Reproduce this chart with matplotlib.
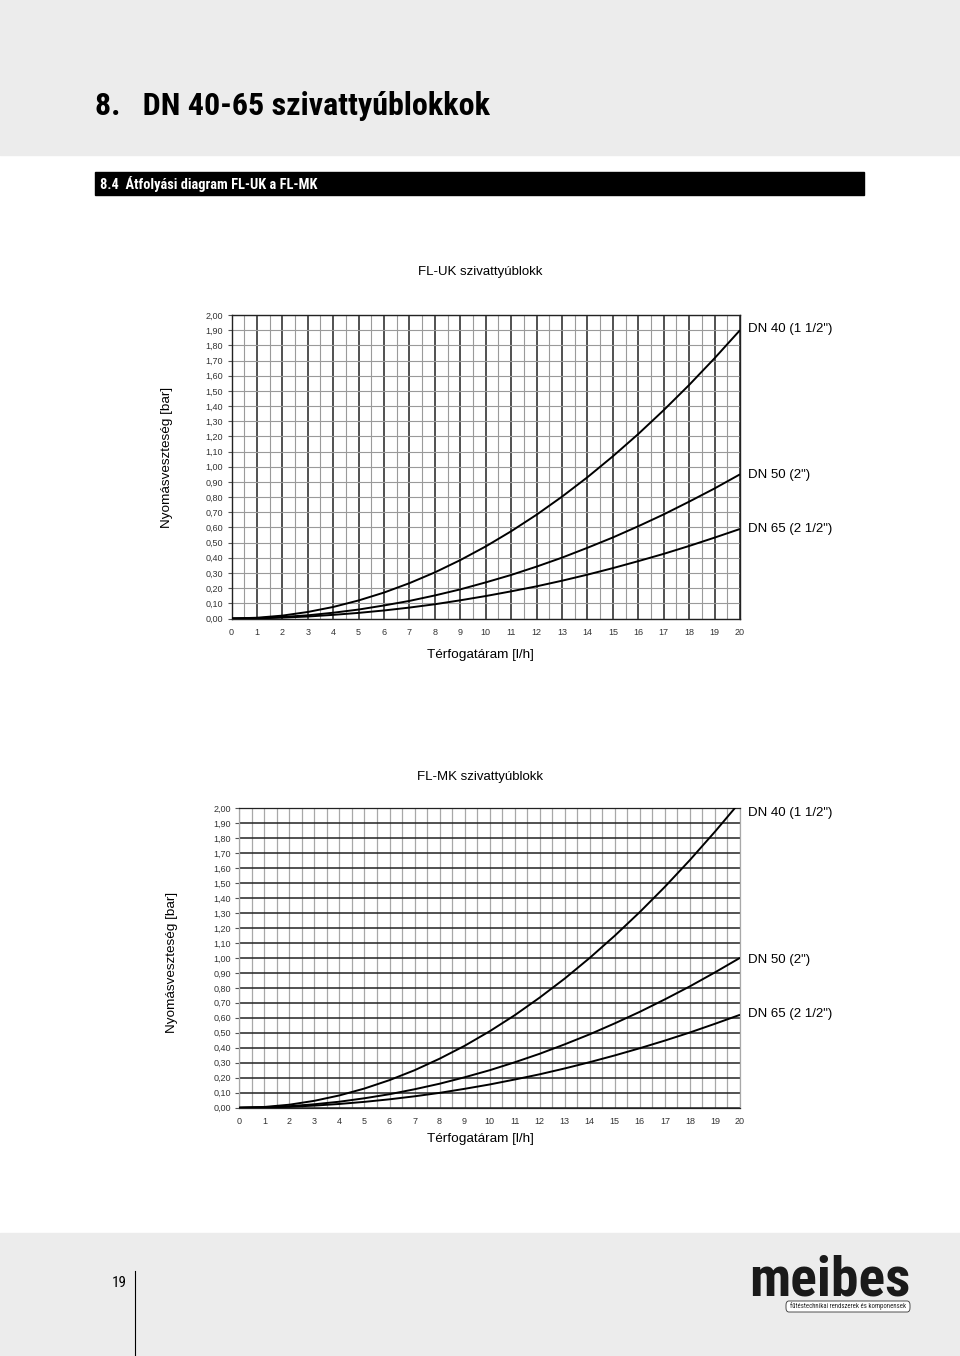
import numpy as np
import matplotlib
matplotlib.use("Agg")
import matplotlib.pyplot as plt
from matplotlib import font_manager
from matplotlib.patches import Rectangle, FancyBboxPatch

plt.rcParams['font.family'] = ['Liberation Sans', 'DejaVu Sans']

# flow rate [l/h] and pressure loss [bar]
flow = list(range(0, 21))
x_labels = [str(v) for v in flow]
y_values = [round(0.1 * i, 2) for i in range(21)]
y_labels = ["0,00", "0,10", "0,20", "0,30", "0,40", "0,50", "0,60", "0,70", "0,80", "0,90", "1,00",
            "1,10", "1,20", "1,30", "1,40", "1,50", "1,60", "1,70", "1,80", "1,90", "2,00"]

# FL-UK
uk_dn40 = [0, 0.005, 0.019, 0.043, 0.076, 0.119, 0.171, 0.233, 0.304, 0.385, 0.475,
           0.575, 0.684, 0.803, 0.931, 1.069, 1.216, 1.373, 1.539, 1.715, 1.900]
uk_dn50 = [0, 0.002, 0.010, 0.021, 0.038, 0.059, 0.086, 0.116, 0.152, 0.192, 0.238,
           0.287, 0.342, 0.401, 0.466, 0.534, 0.608, 0.686, 0.770, 0.857, 0.950]
uk_dn65 = [0, 0.001, 0.006, 0.013, 0.024, 0.037, 0.053, 0.072, 0.094, 0.120, 0.148,
           0.179, 0.212, 0.249, 0.289, 0.332, 0.378, 0.426, 0.478, 0.533, 0.590]

# FL-MK
mk_dn40 = [0, 0.005, 0.020, 0.046, 0.082, 0.128, 0.184, 0.250, 0.327, 0.413, 0.510,
           0.617, 0.735, 0.862, 1.000, 1.148, 1.306, 1.474, 1.653, 1.842, 2.040]
mk_dn50 = [0, 0.003, 0.010, 0.023, 0.040, 0.063, 0.090, 0.123, 0.160, 0.203, 0.250,
           0.303, 0.360, 0.423, 0.490, 0.563, 0.640, 0.723, 0.810, 0.903, 1.000]
mk_dn65 = [0, 0.002, 0.006, 0.014, 0.025, 0.039, 0.056, 0.076, 0.099, 0.126, 0.155,
           0.188, 0.223, 0.262, 0.304, 0.349, 0.397, 0.448, 0.502, 0.560, 0.620]

series_names = ['DN 40 (1 1/2")', 'DN 50 (2")', 'DN 65 (2 1/2")']

W, H = 960, 1356
fig = plt.figure(figsize=(W / 100, H / 100), dpi=100)
renderer = fig.canvas.get_renderer()


def px(x, y):
    return x / W, 1 - y / H


def ax_rect(x0, y0, x1, y1):
    return [x0 / W, 1 - y1 / H, (x1 - x0) / W, (y1 - y0) / H]


def pick_condensed():
    for fam in ['Roboto Condensed', 'Liberation Sans Narrow', 'DejaVu Sans Condensed', 'Roboto']:
        try:
            font_manager.findfont(font_manager.FontProperties(family=fam),
                                  fallback_to_default=False)
            return [fam, 'DejaVu Sans']
        except ValueError:
            continue
    return ['DejaVu Sans']


cond = pick_condensed()


def fit(t, width):
    # shrink a text until it is no wider than the reference
    for _ in range(30):
        w = t.get_window_extent(renderer).width
        if w <= width:
            break
        t.set_fontsize(t.get_fontsize() * width / w)


# page header / footer
fig.patches.append(Rectangle((0, 1 - 155 / H), 1, 155 / H, transform=fig.transFigure,
                             color='#ececec', zorder=0))
fig.patches.append(Rectangle((95 / W, 1 - 195 / H), 769 / W, 23 / H, transform=fig.transFigure,
                             color='black', zorder=0))
fig.patches.append(Rectangle((0, 0), 1, 1 - 1233 / H, transform=fig.transFigure,
                             color='#ececec', zorder=0))

t = fig.text(*px(95, 106), "8.   DN 40-65 szivattyúblokkok", family=cond, weight='bold',
             fontsize=23, va='center', ha='left')
fit(t, 413)
t = fig.text(*px(100, 184), "8.4  Átfolyási diagram FL-UK a FL-MK", family=cond, weight='bold',
             fontsize=11, color='white', va='center', ha='left')
fit(t, 218)

fig.text(*px(127, 1283), "19", fontsize=11, family=cond, ha='right', va='center')
fig.add_artist(plt.Line2D([135 / W, 135 / W], [1 - 1271 / H, 0], color='black', lw=0.8,
                          transform=fig.transFigure))
t = fig.text(*px(910, 1281), "meibes", family=cond, weight='heavy', fontsize=40,
             ha='right', va='center', color='#1a1a1a')
fit(t, 166)
fig.patches.append(FancyBboxPatch((786 / W, 1 - 1312 / H), 124 / W, 11 / H,
                                  boxstyle='round,pad=0,rounding_size=0.003',
                                  transform=fig.transFigure, fc='white', ec='#333', lw=0.6))
t = fig.text(*px(848, 1306.5), "fűtéstechnikai rendszerek és komponensek", family=cond,
             fontsize=6, ha='center', va='center', color='#222')
fit(t, 118)


def draw_chart(rect, title, title_y, curves, label_ys, xlab_y, ylab_x, ylab_y, style):
    ax = fig.add_axes(rect)
    for vals in curves:
        ax.plot(flow, vals, color='black', lw=1.4, zorder=5, solid_capstyle='butt')
    ax.set_xlim(0, 20)
    ax.set_ylim(0, 2.0)
    ax.set_xticks(flow)
    ax.set_xticklabels(x_labels)
    ax.set_xticks(np.arange(0.5, 20, 1.0), minor=True)
    ax.set_yticks(y_values)
    ax.set_yticklabels(y_labels)
    ax.tick_params(axis='y', which='major', length=3, width=0.8, color='#555', pad=3,
                   labelsize=6.5, labelcolor='#333')
    ax.tick_params(axis='x', which='major', length=0, pad=7, labelsize=6.5, labelcolor='#333')
    ax.tick_params(axis='x', which='minor', length=0)
    if style == 'uk':
        ax.grid(True, axis='x', which='major', color='#222', lw=1.1)
        ax.grid(True, axis='x', which='minor', color='#9a9a9a', lw=0.8)
        ax.grid(True, axis='y', which='major', color='#9a9a9a', lw=0.8)
        for s in ax.spines.values():
            s.set_color('#222')
            s.set_linewidth(1.0)
    else:
        ax.grid(True, axis='x', which='both', color='#a8a8a8', lw=0.9)
        ax.grid(True, axis='y', which='major', color='#222', lw=1.1)
        for s in ax.spines.values():
            s.set_color('#a8a8a8')
            s.set_linewidth(0.9)
        ax.spines['top'].set_color('#222')
        ax.spines['bottom'].set_color('#222')
    ax.set_axisbelow(True)

    fig.text(*px(480, title_y), title, fontsize=9.5, ha='center', va='center')
    for name, y in zip(series_names, label_ys):
        fig.text(*px(748, y), name, fontsize=9.5, ha='left', va='center')
    fig.text(*px(480, xlab_y), "Térfogatáram [l/h]", fontsize=9.7, ha='center', va='center')
    fig.text(*px(ylab_x, ylab_y), "Nyomásveszteség [bar]",
             fontsize=9.7, ha='center', va='center', rotation=90)
    return ax


draw_chart(ax_rect(231.5, 315, 740, 618.5), "FL-UK szivattyúblokk", 272,
           [uk_dn40, uk_dn50, uk_dn65], [329, 475, 529], 655, 167, 457, 'uk')
draw_chart(ax_rect(239.3, 808, 740, 1107.7), "FL-MK szivattyúblokk", 777,
           [mk_dn40, mk_dn50, mk_dn65], [813, 960, 1014], 1139, 172, 962, 'mk')

fig.savefig("out.png", dpi=100)
